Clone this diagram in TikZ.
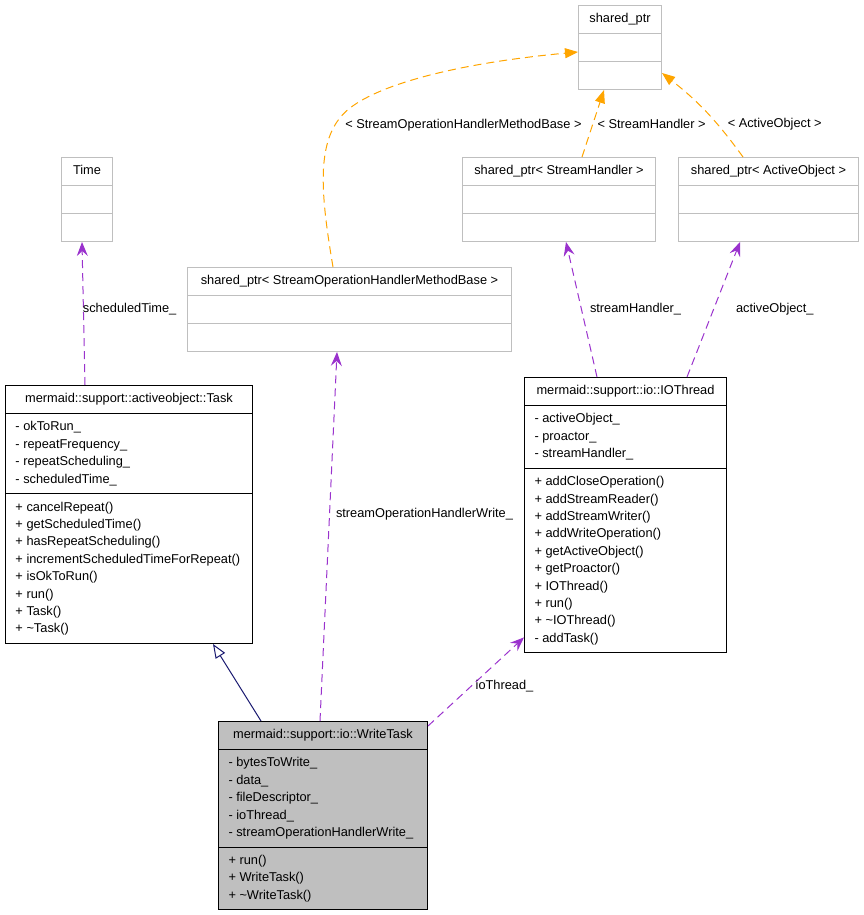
\documentclass[tikz,border=0pt]{standalone}
\usepackage{fontspec}
\setmainfont{Liberation Sans}
\usepackage{tikz}
\usetikzlibrary{shapes.multipart,arrows.meta}
\definecolor{wtpurple}{HTML}{9A32CD}
\definecolor{wtorange}{HTML}{FFA500}
\definecolor{wtnavy}{HTML}{191970}
\definecolor{wtgray}{HTML}{BFBFBF}
\newcommand{\dfont}{\fontsize{12.8pt}{17.4pt}\selectfont}

\begin{document}
\begin{tikzpicture}[x=1pt,y=-1pt,
  cls/.style={rectangle split, rectangle split parts=3, draw, line width=1pt,
    anchor=north west, inner xsep=10pt, inner ysep=4.8pt, font=\dfont, align=left,
    rectangle split part align={center,left,left},
    rectangle split empty part height=12.2pt,
    rectangle split empty part depth=5.2pt,
    rectangle split empty part width=1pt},
  doc/.style={cls, draw=black},
  undoc/.style={cls, draw=wtgray},
  lbl/.style={font=\dfont, inner sep=2pt},
  inherit/.style={draw=wtnavy, line width=1pt,
    -{Triangle[length=14pt, width=11pt, fill=white]}},
  uses/.style={draw=wtpurple, line width=1pt, dash pattern=on 8pt off 5pt,
    -{Stealth[length=14pt, width=11pt, inset=5pt]}},
  tmpl/.style={draw=wtorange, line width=1pt, dash pattern=on 8pt off 5pt,
    -{Triangle[length=13pt, width=10pt]}}]
  \useasboundingbox (0,0) rectangle (863,915);

  % classes
  \node[undoc, minimum width=83pt] (sp) at (578,5) {\strut shared\_ptr};
  \node[undoc, minimum width=193pt] (sh) at (462,157) {\strut shared\_ptr< StreamHandler >};
  \node[undoc, minimum width=180pt] (ao) at (678,157) {\strut shared\_ptr< ActiveObject >};
  \node[undoc, minimum width=51pt] (time) at (61,157) {\strut Time};
  \node[undoc, minimum width=324pt] (sohmb) at (187,267) {\strut shared\_ptr< StreamOperationHandlerMethodBase >};
  \node[doc, minimum width=247pt] (task) at (5,385) {\strut mermaid::support::activeobject::Task
    \nodepart{two}\strut - okToRun\_\\\strut - repeatFrequency\_\\\strut - repeatScheduling\_\\\strut - scheduledTime\_
    \nodepart{three}\strut + cancelRepeat()\\\strut + getScheduledTime()\\\strut + hasRepeatScheduling()\\
    \strut + incrementScheduledTimeForRepeat()\\\strut + isOkToRun()\\\strut + run()\\\strut + Task()\\
    \strut + \textasciitilde Task()};
  \node[doc, minimum width=202pt] (io) at (524,377) {\strut mermaid::support::io::IOThread
    \nodepart{two}\strut - activeObject\_\\\strut - proactor\_\\\strut - streamHandler\_
    \nodepart{three}\strut + addCloseOperation()\\\strut + addStreamReader()\\\strut + addStreamWriter()\\
    \strut + addWriteOperation()\\\strut + getActiveObject()\\\strut + getProactor()\\\strut + IOThread()\\
    \strut + run()\\\strut + \textasciitilde IOThread()\\\strut - addTask()};
  \node[doc, fill=wtgray, minimum width=209pt] (wtask) at (218,721) {\strut mermaid::support::io::WriteTask
    \nodepart{two}\strut - bytesToWrite\_\\\strut - data\_\\\strut - fileDescriptor\_\\\strut - ioThread\_\\
    \strut - streamOperationHandlerWrite\_
    \nodepart{three}\strut + run()\\\strut + WriteTask()\\\strut + \textasciitilde WriteTask()};

  % relations
  \draw[inherit] ([xshift=43pt]wtask.north west) -- ([xshift=208pt]task.south west);
  \draw[uses] ([xshift=102pt]wtask.north west) -- node[lbl, right, pos=0.56, xshift=4pt] {streamOperationHandlerWrite\_} ([xshift=150pt]sohmb.south west);
  \draw[uses] ([yshift=-5pt]wtask.north east) -- node[lbl, right, pos=0.45, xshift=2pt] {ioThread\_} ([yshift=16pt]io.south west);
  \draw[uses] ([xshift=80pt]task.north west) -- node[lbl, right, pos=0.53, xshift=-3pt] {scheduledTime\_} ([xshift=21pt]time.south west);
  \draw[uses] ([xshift=73pt]io.north west) -- node[lbl, right, pos=0.5, xshift=6pt] {streamHandler\_} ([xshift=104pt]sh.south west);
  \draw[uses] ([xshift=163pt]io.north west) -- node[lbl, right, pos=0.5, xshift=20pt] {activeObject\_} ([xshift=62pt]ao.south west);

  % template instances
  \draw[tmpl] ([xshift=146pt]sohmb.north west) .. controls (320,190) and (315,135) .. (350,108)
    node[lbl, right, pos=0.85, xshift=6pt, yshift=-3pt] {< StreamOperationHandlerMethodBase >}
    .. controls (385,81) and (470,62) .. ([yshift=-47pt]sp.north west);
  \draw[tmpl] ([xshift=120pt]sh.north west) -- node[lbl, right, pos=0.5, xshift=2pt] {< StreamHandler >} ([xshift=26pt]sp.south west);
  \draw[tmpl] ([xshift=65pt]ao.north west) to[bend right=8] node[lbl, right, pos=0.4, xshift=12pt, yshift=-5pt] {< ActiveObject >} ([yshift=17pt]sp.south east);
\end{tikzpicture}
\end{document}
